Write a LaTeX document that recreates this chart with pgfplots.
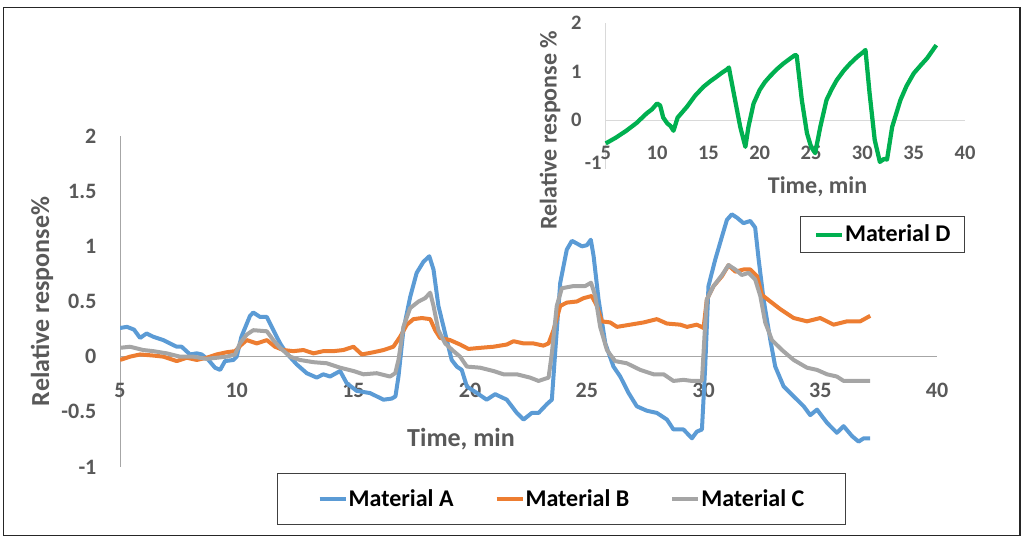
\documentclass[border=0pt]{standalone}
\usepackage{fontspec}
\setmainfont{Carlito}
\usepackage{pgfplots}
\pgfplotsset{compat=1.18}
\definecolor{blueA}{HTML}{5B9BD5}
\definecolor{orangeB}{HTML}{ED7D31}
\definecolor{grayC}{HTML}{A5A5A5}
\definecolor{greenD}{HTML}{00B050}
\definecolor{labelgray}{HTML}{595959}
\definecolor{axisgray}{HTML}{A6A6A6}
\definecolor{axisgraylight}{HTML}{D9D9D9}
\begin{document}
\begin{tikzpicture}
\useasboundingbox (0,0) rectangle (768pt,405.75pt);
\draw[black!85, line width=1pt] (2.5pt,4pt) rectangle (765pt,400pt);
% ---------------- main chart ----------------
\begin{axis}[
  at={(90pt,55.5pt)}, anchor=south west,
  scale only axis, width=612.75pt, height=248.25pt,
  xmin=5, xmax=40, ymin=-1, ymax=2,
  axis y line=left, axis x line=middle,
  axis line style={-, draw=axisgray, line width=0.75pt},
  hide obscured x ticks=false, hide obscured y ticks=false,
  xtick={5,10,15,20,25,30,35,40}, xticklabels={5,10,15,20,25,30,35,40},
  ytick={-1,-0.5,0,0.5,1,1.5,2}, yticklabels={-1,-0.5,0,0.5,1,1.5,2},
  major tick length=0pt,
  tick label style={font=\fontsize{16.5}{19}\selectfont\bfseries, text=labelgray},
  xticklabel style={anchor=north, inner sep=0pt, yshift=-19.5pt},
  yticklabel style={anchor=east, inner sep=0pt, xshift=-17.5pt},
  xlabel={Time, min}, ylabel={Relative response\%},
  xlabel style={at={(axis description cs:0.4174,0.0846)}, anchor=center, inner sep=0pt,
    font=\fontsize{19.5}{22}\selectfont\bfseries, text=labelgray},
  ylabel style={at={(axis description cs:-0.0955,0.5)}, anchor=center, inner sep=0pt,
    font=\fontsize{19.5}{22}\selectfont\bfseries, text=labelgray},
  legend columns=3,
  legend style={at={(0.5404,-0.0967)}, anchor=center, draw=black!75, line width=0.75pt,
    font=\fontsize{18}{21}\selectfont\bfseries, inner xsep=30pt, inner ysep=11pt,
    nodes={inner sep=0.75pt, text=black},
    /tikz/every even column/.append style={column sep=30pt}},
  legend image code/.code={\draw[#1, line width=3pt] (0pt,0pt) -- (19.5pt,0pt);},
  every axis plot/.append style={line width=3pt, line join=round},
]
\addplot[blueA] coordinates {
(5.0,0.26)(5.3,0.27)(5.6,0.245)(5.86,0.17)(6.14,0.21)(6.43,0.18)(6.86,0.15)(7.14,0.12)
(7.43,0.09)(7.64,0.09)(8.0,0.02)(8.29,0.03)(8.5,0.02)(8.79,-0.03)(9.07,-0.10)(9.29,-0.12)
(9.5,-0.04)(9.86,-0.03)(10.0,0.0)(10.2,0.18)(10.57,0.37)(10.71,0.40)(11.0,0.36)(11.29,0.36)
(11.57,0.24)(11.86,0.12)(12.14,0.03)(12.57,-0.07)(13.0,-0.15)(13.43,-0.19)(13.71,-0.16)
(14.0,-0.18)(14.43,-0.13)(14.71,-0.24)(15.14,-0.31)(15.71,-0.33)(16.0,-0.36)(16.29,-0.39)
(16.64,-0.38)(16.8,-0.36)(16.93,-0.18)(17.14,0.24)(17.43,0.54)(17.71,0.76)(18.0,0.86)
(18.25,0.91)(18.43,0.79)(18.64,0.46)(18.93,0.21)(19.21,-0.03)(19.43,-0.09)(19.64,-0.12)
(19.86,-0.27)(20.29,-0.33)(20.71,-0.39)(21.07,-0.34)(21.57,-0.39)(22.0,-0.51)(22.29,-0.57)
(22.64,-0.51)(22.93,-0.51)(23.29,-0.43)(23.5,-0.39)(23.64,0.03)(23.86,0.67)(24.14,0.97)
(24.36,1.05)(24.79,1.00)(25.0,1.01)(25.17,1.06)(25.29,0.91)(25.5,0.52)(25.79,0.12)
(26.14,-0.09)(26.43,-0.18)(26.79,-0.33)(27.14,-0.45)(27.57,-0.49)(28.0,-0.51)(28.43,-0.57)
(28.71,-0.66)(29.14,-0.66)(29.5,-0.74)(29.71,-0.68)(29.93,-0.66)(30.07,-0.09)(30.21,0.64)
(30.5,0.88)(30.79,1.09)(31.0,1.24)(31.21,1.29)(31.43,1.26)(31.71,1.21)(32.0,1.23)
(32.21,1.17)(32.36,0.88)(32.57,0.52)(32.86,0.15)(33.07,-0.09)(33.43,-0.27)(33.86,-0.36)
(34.29,-0.45)(34.57,-0.53)(34.86,-0.48)(35.29,-0.60)(35.71,-0.69)(36.0,-0.63)(36.36,-0.72)
(36.64,-0.77)(36.86,-0.74)(37.14,-0.74)
};
\addlegendentry{Material A}
\addplot[orangeB] coordinates {
(5.0,-0.03)(5.43,0.0)(5.86,0.02)(6.43,0.01)(6.86,0.0)(7.43,-0.04)(7.86,-0.01)(8.29,-0.03)
(8.71,-0.01)(9.14,0.02)(9.57,0.04)(9.93,0.05)(10.21,0.11)(10.43,0.15)(10.86,0.12)(11.29,0.15)
(11.64,0.09)(12.0,0.06)(12.43,0.05)(12.86,0.06)(13.29,0.03)(13.71,0.05)(14.14,0.05)(14.57,0.06)
(15.0,0.09)(15.36,0.02)(15.86,0.04)(16.29,0.06)(16.71,0.09)(17.0,0.18)(17.29,0.29)(17.57,0.34)
(17.93,0.35)(18.29,0.34)(18.5,0.24)(18.71,0.17)(19.14,0.15)(19.57,0.11)(19.93,0.07)(20.43,0.08)
(21.0,0.09)(21.57,0.11)(21.86,0.14)(22.29,0.12)(22.71,0.12)(23.14,0.10)(23.36,0.12)(23.57,0.24)
(23.86,0.46)(24.14,0.49)(24.57,0.50)(24.86,0.53)(25.21,0.55)(25.43,0.46)(25.64,0.32)(26.0,0.31)
(26.29,0.27)(26.86,0.29)(27.43,0.31)(28.0,0.34)(28.43,0.30)(29.0,0.29)(29.29,0.27)(29.71,0.29)
(30.0,0.26)(30.14,0.52)(30.43,0.64)(30.79,0.73)(31.07,0.83)(31.36,0.77)(31.71,0.79)(32.0,0.79)
(32.29,0.73)(32.5,0.56)(32.86,0.50)(33.29,0.43)(33.86,0.35)(34.43,0.32)(35.0,0.35)(35.57,0.29)
(36.14,0.32)(36.71,0.32)(37.14,0.37)
};
\addlegendentry{Material B}
\addplot[grayC] coordinates {
(5.0,0.08)(5.43,0.09)(6.0,0.06)(6.43,0.05)(7.0,0.03)(7.57,0.0)(8.14,0.0)(8.71,-0.02)
(9.14,-0.01)(9.57,0.0)(9.93,0.02)(10.14,0.12)(10.43,0.20)(10.71,0.24)(11.29,0.23)(11.57,0.15)
(11.86,0.08)(12.29,0.0)(12.71,-0.03)(13.29,-0.05)(13.86,-0.06)(14.43,-0.10)(15.0,-0.13)
(15.43,-0.16)(16.0,-0.15)(16.57,-0.18)(16.79,-0.15)(16.93,-0.03)(17.14,0.27)(17.43,0.44)
(17.79,0.50)(18.07,0.53)(18.29,0.58)(18.43,0.46)(18.64,0.24)(18.93,0.12)(19.29,0.05)(19.57,0.0)
(19.86,-0.09)(20.43,-0.10)(21.0,-0.13)(21.43,-0.16)(22.0,-0.16)(22.57,-0.19)(22.93,-0.22)
(23.36,-0.19)(23.5,0.03)(23.71,0.46)(23.93,0.62)(24.43,0.64)(24.93,0.64)(25.18,0.67)(25.36,0.55)
(25.57,0.27)(25.86,0.06)(26.21,-0.04)(26.71,-0.06)(27.29,-0.12)(27.86,-0.16)(28.29,-0.16)
(28.71,-0.22)(29.14,-0.21)(29.5,-0.22)(29.93,-0.22)(30.07,0.3)(30.14,0.52)(30.43,0.64)
(30.79,0.74)(31.07,0.83)(31.36,0.79)(31.64,0.74)(31.93,0.76)(32.21,0.70)(32.43,0.55)(32.64,0.31)
(32.93,0.15)(33.36,0.06)(33.86,-0.03)(34.43,-0.10)(34.86,-0.12)(35.29,-0.16)(35.71,-0.18)
(36.0,-0.22)(36.43,-0.22)(37.14,-0.22)
};
\addlegendentry{Material C}
\end{axis}
% ---------------- inset ----------------
\begin{axis}[
  at={(454.3pt,279.2pt)}, anchor=south west,
  scale only axis, width=269.5pt, height=109.5pt,
  xmin=5, xmax=40, ymin=-1, ymax=2, clip=false,
  axis y line=left, axis x line=middle,
  axis line style={-, draw=axisgraylight, line width=0.75pt},
  hide obscured x ticks=false, hide obscured y ticks=false,
  xtick={5,10,15,20,25,30,35,40}, xticklabels={5,10,15,20,25,30,35,40},
  ytick={0,1,2}, yticklabels={0,1,2},
  major tick length=0pt,
  tick label style={font=\fontsize{15.4}{18}\selectfont\bfseries, text=labelgray},
  xticklabel style={anchor=north, inner sep=0pt, yshift=-19.3pt},
  yticklabel style={anchor=east, inner sep=0pt, xshift=-18pt},
  xlabel={Time, min}, ylabel={Relative response \%},
  xlabel style={at={(axis description cs:0.5895,-0.123)}, anchor=center, inner sep=0pt,
    font=\fontsize{18}{21}\selectfont\bfseries, text=labelgray},
  ylabel style={at={(axis description cs:-0.155,0.265)}, anchor=center, inner sep=0pt,
    font=\fontsize{18}{21}\selectfont\bfseries, text=labelgray},
  legend style={at={(0.771,-0.4507)}, anchor=center, draw=black!75, line width=0.75pt,
    font=\fontsize{18}{21}\selectfont\bfseries, inner xsep=10pt, inner ysep=6pt,
    nodes={inner sep=0.75pt, text=black}},
  legend image code/.code={\draw[#1, line width=3pt] (0pt,0pt) -- (19.5pt,0pt);},
]
\addplot[greenD, line width=3.2pt, line join=round] coordinates {
(5,-0.48)(6,-0.36)(7,-0.22)(8,-0.06)(9,0.14)(9.5,0.22)(10,0.34)(10.3,0.3)(10.6,0.05)
(11,-0.07)(11.3,-0.12)(11.6,-0.22)(12.0,0.05)(12.9,0.27)(13.7,0.5)(14.5,0.68)(15.2,0.8)
(15.8,0.89)(16.3,0.97)(16.8,1.04)(17.0,1.08)(17.1,0.96)(17.6,0.41)(18.1,-0.14)(18.6,-0.55)
(18.9,-0.14)(19.4,0.34)(20.0,0.62)(20.5,0.78)(21.0,0.9)(21.7,1.05)(22.3,1.16)(23.0,1.27)
(23.4,1.33)(23.6,1.33)(24.1,0.41)(24.6,-0.27)(25.0,-0.55)(25.4,-0.68)(25.9,-0.14)(26.5,0.41)
(27.0,0.63)(27.5,0.82)(28.2,1.02)(28.8,1.16)(29.5,1.3)(30.1,1.4)(30.3,1.44)(30.7,0.55)
(31.2,-0.41)(31.7,-0.86)(32.1,-0.8)(32.4,-0.81)(32.9,-0.14)(33.7,0.41)(34.3,0.7)(35.0,0.96)
(35.7,1.13)(36.3,1.27)(37.2,1.54)
};
\addlegendentry{Material D}
\node[anchor=east, inner sep=0pt, font=\fontsize{15.4}{18}\selectfont\bfseries, text=labelgray]
  at (rel axis cs:-0.0111,0.037) {-1};
\end{axis}
\end{tikzpicture}
\end{document}
